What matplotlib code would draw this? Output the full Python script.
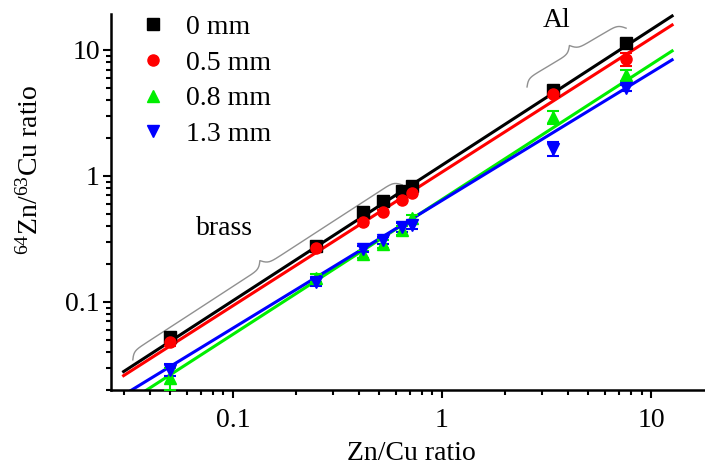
import numpy as np
import matplotlib
matplotlib.use("Agg")
import matplotlib.pyplot as plt
from matplotlib.ticker import LogLocator, NullFormatter, FuncFormatter

plt.rcParams.update({'font.family': 'Liberation Serif',
                     'mathtext.fontset': 'custom',
                     'mathtext.rm': 'Liberation Serif',
                     'mathtext.it': 'Liberation Serif:italic',
                     'font.size': 20,
                     'axes.linewidth': 1.8,
                     'xtick.direction': 'out',
                     'ytick.direction': 'out',
                     'xtick.major.size': 6,
                     'xtick.minor.size': 3.5,
                     'ytick.major.size': 6,
                     'ytick.minor.size': 3.5,
                     'xtick.major.width': 1.5,
                     'xtick.minor.width': 1.5,
                     'ytick.major.width': 1.5,
                     'ytick.minor.width': 1.5})

# Zn/Cu ratio of the samples
zncu = [0.05, 0.25, 0.42, 0.52, 0.64, 0.72, 3.4, 7.6]

labels = ["0 mm", "0.5 mm", "0.8 mm", "1.3 mm"]
colors = ["#000000", "#ff0000", "#00ee00", "#0000ff"]
markers = ["s", "o", "^", "v"]

ratio_0mm = [0.053, 0.28, 0.52, 0.63, 0.76, 0.83, 4.8, 11.4]
ratio_05mm = [0.048, 0.27, 0.43, 0.52, 0.65, 0.73, 4.5, 8.5]
ratio_08mm = [0.025, 0.155, 0.24, 0.29, 0.37, 0.46, 2.95, 6.3]
ratio_13mm = [0.029, 0.144, 0.265, 0.31, 0.39, 0.41, 1.65, 5.0]

err_0mm = [0.003, 0.012, 0.02, 0.02, 0.02, 0.02, 0.2, 0.5]
err_05mm = [0.003, 0.015, 0.02, 0.02, 0.03, 0.03, 0.3, 1.0]
err_08mm = [0.005, 0.012, 0.015, 0.02, 0.03, 0.03, 0.35, 0.6]
err_13mm = [0.003, 0.01, 0.015, 0.02, 0.03, 0.03, 0.2, 0.3]

# power-law fits: log10(y) = slope*log10(x) + icpt
fit_slope = [1.076, 1.061, 1.071, 1.014]
fit_icpt = [0.086, 0.031, -0.186, -0.194]
fit_range = [0.03, 12.6]

series = [ratio_0mm, ratio_05mm, ratio_08mm, ratio_13mm]
errs = [err_0mm, err_05mm, err_08mm, err_13mm]

fig = plt.figure(figsize=(7.05, 4.72), dpi=100)
ax = fig.add_axes([0.1574, 0.1737, 0.8426, 0.7966])
ax.set_xscale('log')
ax.set_yscale('log')
ax.set_xlim(0.0261, 18.1)
ax.set_ylim(0.0200, 19.3)

xf = np.logspace(np.log10(fit_range[0]), np.log10(fit_range[1]), 50)
for i in range(4):
    ax.plot(xf, 10**(fit_slope[i]*np.log10(xf) + fit_icpt[i]), color=colors[i], lw=2.2, zorder=2)
for i in range(4):
    ax.errorbar(zncu, series[i], yerr=errs[i], fmt='none', ecolor=colors[i],
                elinewidth=1.5, capsize=4, capthick=1.5, zorder=3)
    ax.plot(zncu, series[i], ls='none', marker=markers[i], color=colors[i],
            ms=8, label=labels[i], zorder=4)

for s in ['top', 'right']:
    ax.spines[s].set_visible(False)

fmt = FuncFormatter(lambda v, p: '%g' % v)
for axis in [ax.xaxis, ax.yaxis]:
    axis.set_major_locator(LogLocator(base=10))
    axis.set_minor_locator(LogLocator(base=10, subs=np.arange(2, 10)))
    axis.set_major_formatter(fmt)
    axis.set_minor_formatter(NullFormatter())
ax.tick_params(axis='x', pad=7)
ax.tick_params(axis='y', pad=2)

ax.set_xlabel("Zn/Cu ratio")
ax.set_ylabel("$^{64}$Zn/$^{63}$Cu ratio")
ax.xaxis.set_label_coords(0.506, -0.135)
ax.yaxis.set_label_coords(-0.113, 0.585)

leg = ax.legend(loc='upper left', bbox_to_anchor=(0.0, 1.065), frameon=False,
                handletextpad=0.6, labelspacing=0.37, handlelength=1.2, fontsize=20)


def brace(p0, p1, depth=14, beta=0.35):
    # curly brace between two data points, drawn in pixel space, tip up-left
    a = ax.transData.transform(p0)
    b = ax.transData.transform(p1)
    d = b - a
    L = np.hypot(*d)
    u = d / L
    n = np.array([-u[1], u[0]])
    t = np.linspace(0, L / 2, 200)
    h = 1 / (1 + np.exp(-beta * t)) + 1 / (1 + np.exp(-beta * (t - L / 2)))
    h = np.concatenate([h, h[-2::-1]]) - 0.5
    s = np.concatenate([t, L - t[-2::-1]])
    pts = a[None, :] + s[:, None] * u[None, :] + (depth * h)[:, None] * n[None, :]
    ax.plot(pts[:, 0], pts[:, 1], color='#909090', lw=1.0, transform=None, clip_on=False)


fig.canvas.draw()
brace((0.0332, 0.0347), (0.645, 0.85))
brace((2.55, 5.09), (7.59, 14.9))

ax.text(0.0916, 0.386, "brass", ha='center', va='center', fontsize=20)
ax.text(3.55, 17.3, "Al", ha='center', va='center', fontsize=20)

fig.savefig("out.png", dpi=100)
